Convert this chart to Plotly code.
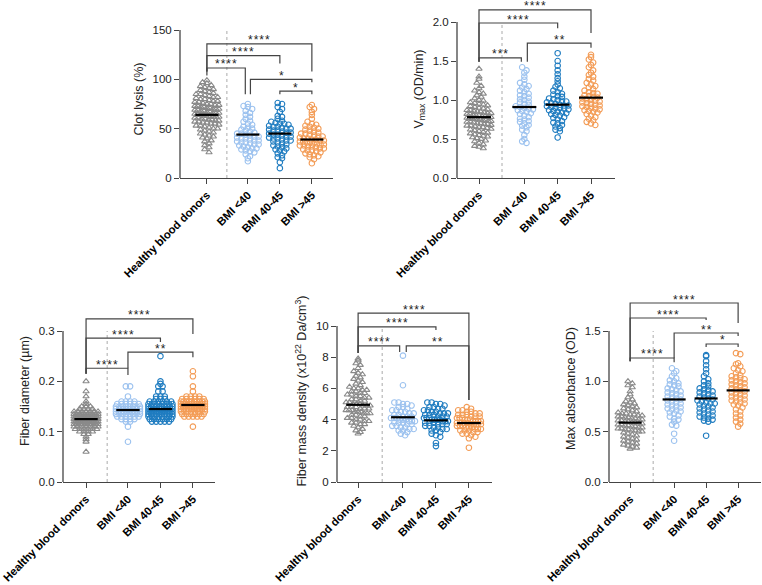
import plotly.graph_objects as go

W, H = 762, 585

groups = ["Healthy blood donors", "BMI <40", "BMI 40-45", "BMI >45"]
colors = ["#8a8a8a", "#9cc2ef", "#1f7cc0", "#f39c56"]
symbols = ["triangle-up-open", "circle-open", "circle-open", "circle-open"]

# ---------------- Clot lysis (%) ----------------
cl_healthy = [99, 97, 96, 94, 93, 92, 91, 90, 89, 88, 87, 86, 85, 85, 84, 83, 82, 82, 81, 80, 80, 79, 78, 78, 77, 77,
              76, 75, 75, 74, 74, 73, 73, 72, 72, 71, 71, 70, 70, 70, 69, 69, 68, 68, 67, 67, 66, 66, 66, 65, 65, 64,
              64, 64, 63, 63, 62, 62, 62, 61, 61, 60, 60, 59, 59, 58, 58, 57, 57, 56, 56, 55, 55, 54, 53, 53, 52, 51,
              50, 50, 49, 48, 47, 46, 45, 44, 43, 42, 41, 40, 38, 37, 35, 33, 31, 29, 26]
cl_bmi_lt40 = [75, 73, 72, 70, 68, 66, 64, 62, 60, 58, 57, 55, 54, 52, 51, 50, 49, 48, 47, 46, 45, 45, 44, 43, 42, 42,
               41, 40, 40, 39, 38, 38, 37, 36, 36, 35, 34, 34, 33, 32, 31, 30, 30, 29, 28, 27, 26, 24, 22, 20, 17]
cl_bmi_40_45 = [76, 75, 72, 70, 67, 63, 62, 60, 58, 57, 56, 55, 55, 54, 53, 52, 52, 51, 50, 50, 49, 48, 48, 47, 46, 46,
                45, 44, 44, 43, 42, 42, 41, 40, 40, 39, 38, 38, 37, 36, 35, 34, 33, 32, 31, 30, 29, 28, 27, 25, 23, 21,
                20, 16, 10]
cl_bmi_gt45 = [74, 72, 70, 67, 64, 60, 57, 55, 54, 53, 52, 51, 50, 49, 48, 47, 46, 45, 45, 44, 43, 42, 42, 41, 40, 40,
               39, 39, 38, 38, 37, 37, 36, 36, 35, 35, 34, 34, 33, 33, 32, 32, 31, 30, 30, 29, 28, 28, 27, 26, 25, 24,
               23, 22, 21, 19, 15]
cl_means = [64, 44, 45, 39]

# ---------------- Vmax (OD/min) ----------------
vm_healthy = [1.40, 1.30, 1.27, 1.22, 1.18, 1.15, 1.12, 1.10, 1.08, 1.06, 1.04, 1.02, 1.00, 0.99, 0.97, 0.96, 0.95,
              0.94, 0.93, 0.92, 0.91, 0.90, 0.89, 0.88, 0.87, 0.87, 0.86, 0.85, 0.85, 0.84, 0.83, 0.83, 0.82, 0.82,
              0.81, 0.80, 0.80, 0.79, 0.79, 0.78, 0.78, 0.77, 0.77, 0.76, 0.76, 0.75, 0.75, 0.74, 0.74, 0.73, 0.73,
              0.72, 0.72, 0.71, 0.70, 0.70, 0.69, 0.69, 0.68, 0.67, 0.67, 0.66, 0.65, 0.65, 0.64, 0.63, 0.62, 0.61,
              0.60, 0.59, 0.58, 0.57, 0.56, 0.55, 0.54, 0.53, 0.52, 0.51, 0.50, 0.48, 0.47, 0.45, 0.43, 0.41, 0.40, 0.38]
vm_bmi_lt40 = [1.42, 1.38, 1.35, 1.30, 1.26, 1.22, 1.20, 1.18, 1.16, 1.14, 1.12, 1.10, 1.08, 1.06, 1.05, 1.03, 1.01,
               1.00, 0.98, 0.97, 0.95, 0.94, 0.92, 0.91, 0.90, 0.89, 0.88, 0.87, 0.86, 0.85, 0.83, 0.82, 0.80, 0.78,
               0.76, 0.75, 0.73, 0.72, 0.70, 0.68, 0.67, 0.65, 0.62, 0.60, 0.55, 0.50, 0.47, 0.45]
vm_bmi_40_45 = [1.60, 1.50, 1.44, 1.38, 1.33, 1.28, 1.24, 1.20, 1.17, 1.15, 1.12, 1.10, 1.08, 1.07, 1.05, 1.04, 1.02,
                1.01, 1.00, 0.99, 0.98, 0.97, 0.96, 0.95, 0.94, 0.93, 0.93, 0.92, 0.91, 0.90, 0.90, 0.89, 0.88, 0.87,
                0.86, 0.85, 0.84, 0.83, 0.82, 0.81, 0.80, 0.78, 0.77, 0.75, 0.73, 0.71, 0.70, 0.68, 0.66, 0.64, 0.62,
                0.60, 0.52]
vm_bmi_gt45 = [1.58, 1.55, 1.52, 1.48, 1.45, 1.42, 1.38, 1.35, 1.32, 1.30, 1.27, 1.25, 1.22, 1.20, 1.18, 1.16, 1.14,
               1.12, 1.10, 1.09, 1.08, 1.06, 1.05, 1.04, 1.03, 1.02, 1.01, 1.00, 0.99, 0.98, 0.97, 0.96, 0.95, 0.94,
               0.93, 0.92, 0.91, 0.90, 0.89, 0.88, 0.87, 0.86, 0.85, 0.84, 0.82, 0.80, 0.78, 0.76, 0.74, 0.72, 0.70, 0.68]
vm_means = [0.78, 0.91, 0.94, 1.03]

# ---------------- Fiber diameter (um) ----------------
fd_healthy = ([0.06, 0.08, 0.085, 0.09] + [0.095] * 2 + [0.10] * 4 + [0.105] * 6 + [0.11] * 9 + [0.115] * 12 +
              [0.12] * 16 + [0.125] * 18 + [0.13] * 14 + [0.135] * 10 + [0.14] * 7 + [0.145] * 4 + [0.15] * 3 +
              [0.155, 0.16, 0.17, 0.18, 0.20])
fd_bmi_lt40 = ([0.19] * 2 + [0.17] + [0.16] * 4 + [0.155] * 6 + [0.15] * 8 + [0.145] * 8 + [0.14] * 10 +
               [0.135] * 8 + [0.13] * 6 + [0.125] * 4 + [0.12] * 2 + [0.11, 0.08])
fd_bmi_40_45 = ([0.25, 0.20, 0.195] + [0.19] * 2 + [0.18] * 2 + [0.17] * 3 + [0.165] * 3 + [0.16] * 6 + [0.155] * 8 +
                [0.15] * 10 + [0.145] * 12 + [0.14] * 14 + [0.135] * 10 + [0.13] * 8 + [0.125] * 6 + [0.12] * 5)
fd_bmi_gt45 = ([0.22, 0.21, 0.19, 0.18] + [0.17] * 4 + [0.165] * 6 + [0.16] * 10 + [0.155] * 12 + [0.15] * 12 +
               [0.145] * 10 + [0.14] * 8 + [0.135] * 6 + [0.13] * 5 + [0.11])
fd_means = [0.125, 0.143, 0.145, 0.153]

# ---------------- Fiber mass density ----------------
md_healthy = [7.9, 7.8, 7.6, 7.5, 7.3, 7.1, 7.0, 6.9, 6.8, 6.7, 6.6, 6.5, 6.4, 6.3, 6.2, 6.1, 6.0, 6.0, 5.9, 5.9, 5.8,
              5.8, 5.7, 5.7, 5.6, 5.6, 5.5, 5.5, 5.4, 5.4, 5.3, 5.3, 5.2, 5.2, 5.1, 5.1, 5.0, 5.0, 5.0, 4.9, 4.9, 4.9,
              4.8, 4.8, 4.8, 4.7, 4.7, 4.7, 4.6, 4.6, 4.6, 4.5, 4.5, 4.5, 4.4, 4.4, 4.4, 4.3, 4.3, 4.2, 4.2, 4.1, 4.1,
              4.0, 4.0, 3.9, 3.9, 3.8, 3.8, 3.7, 3.7, 3.6, 3.5, 3.4, 3.3, 3.2, 3.1]
md_bmi_lt40 = [8.1, 6.2, 5.1, 5.1, 5.0, 5.0, 4.9, 4.8, 4.8, 4.7, 4.6, 4.6, 4.5, 4.5, 4.4, 4.4, 4.3, 4.3, 4.2, 4.2, 4.2,
               4.1, 4.1, 4.1, 4.0, 4.0, 4.0, 3.9, 3.9, 3.9, 3.8, 3.8, 3.8, 3.7, 3.7, 3.6, 3.6, 3.5, 3.5, 3.4, 3.4, 3.3,
               3.3, 3.2, 3.1, 3.0]
md_bmi_40_45 = [5.1, 5.1, 5.0, 5.0, 4.9, 4.8, 4.8, 4.7, 4.7, 4.6, 4.6, 4.5, 4.5, 4.4, 4.4, 4.4, 4.3, 4.3, 4.3, 4.2, 4.2,
                4.2, 4.1, 4.1, 4.1, 4.0, 4.0, 4.0, 4.0, 3.9, 3.9, 3.9, 3.8, 3.8, 3.8, 3.7, 3.7, 3.7, 3.6, 3.6, 3.5, 3.5,
                3.4, 3.4, 3.3, 3.3, 3.2, 3.1, 3.0, 2.9, 2.5, 2.3]
md_bmi_gt45 = [4.8, 4.7, 4.6, 4.6, 4.5, 4.5, 4.4, 4.4, 4.3, 4.3, 4.3, 4.2, 4.2, 4.2, 4.1, 4.1, 4.1, 4.0, 4.0, 4.0, 3.9,
               3.9, 3.9, 3.9, 3.8, 3.8, 3.8, 3.8, 3.7, 3.7, 3.7, 3.7, 3.6, 3.6, 3.6, 3.5, 3.5, 3.5, 3.4, 3.4, 3.4, 3.3,
               3.3, 3.3, 3.2, 3.2, 3.1, 3.1, 3.0, 2.9, 2.8, 2.2]
md_means = [4.95, 4.15, 3.95, 3.78]

# ---------------- Max absorbance (OD) ----------------
ma_healthy = [1.00, 0.98, 0.96, 0.94, 0.90, 0.87, 0.84, 0.82, 0.80, 0.79, 0.78, 0.77, 0.76, 0.75, 0.74, 0.73, 0.72,
              0.71, 0.70, 0.69, 0.68, 0.68, 0.67, 0.67, 0.66, 0.66, 0.65, 0.65, 0.64, 0.64, 0.63, 0.63, 0.62, 0.62,
              0.61, 0.61, 0.60, 0.60, 0.59, 0.59, 0.58, 0.58, 0.57, 0.57, 0.56, 0.56, 0.55, 0.55, 0.54, 0.54, 0.53,
              0.53, 0.52, 0.52, 0.51, 0.51, 0.50, 0.50, 0.49, 0.48, 0.47, 0.46, 0.45, 0.44, 0.43, 0.42, 0.41, 0.40,
              0.39, 0.38, 0.37, 0.36, 0.35, 0.34, 0.33]
ma_bmi_lt40 = [1.13, 1.10, 1.08, 1.05, 1.03, 1.01, 1.00, 0.98, 0.97, 0.96, 0.95, 0.93, 0.92, 0.91, 0.90, 0.89, 0.88,
               0.87, 0.86, 0.85, 0.84, 0.83, 0.82, 0.81, 0.80, 0.79, 0.78, 0.77, 0.76, 0.75, 0.74, 0.73, 0.72, 0.71,
               0.70, 0.69, 0.68, 0.66, 0.65, 0.63, 0.62, 0.60, 0.57, 0.56, 0.48, 0.41]
ma_bmi_40_45 = [1.26, 1.25, 1.20, 1.16, 1.12, 1.08, 1.05, 1.02, 1.00, 0.98, 0.96, 0.95, 0.93, 0.92, 0.91, 0.90, 0.89,
                0.88, 0.87, 0.86, 0.85, 0.84, 0.83, 0.82, 0.81, 0.80, 0.79, 0.78, 0.78, 0.77, 0.76, 0.75, 0.74, 0.73,
                0.72, 0.71, 0.70, 0.69, 0.68, 0.67, 0.66, 0.65, 0.64, 0.63, 0.62, 0.61, 0.60, 0.46]
ma_bmi_gt45 = [1.28, 1.27, 1.18, 1.17, 1.15, 1.13, 1.11, 1.10, 1.08, 1.06, 1.05, 1.04, 1.03, 1.02, 1.01, 1.00, 0.99,
               0.98, 0.97, 0.96, 0.95, 0.94, 0.93, 0.92, 0.91, 0.90, 0.89, 0.88, 0.87, 0.86, 0.85, 0.84, 0.83, 0.82,
               0.81, 0.80, 0.79, 0.78, 0.77, 0.76, 0.74, 0.72, 0.70, 0.68, 0.66, 0.64, 0.62, 0.60, 0.58, 0.55]
ma_means = [0.59, 0.82, 0.83, 0.91]

# significance brackets: (group1, group2, bar level, leg1 end, leg2 end, dx1, dx2, label)
cl_brackets = [(0, 3, 136, 108, 108, 0, 0, "****"), (0, 2, 124, 108, 116, 0, 0, "****"),
               (0, 1, 111.5, 104, 85, 0, -0.08, "****"), (1, 3, 100, 85, 97, 0.08, 0, "*"),
               (2, 3, 88, 85, 85, 0, 0, "*")]
vm_brackets = [(0, 3, 2.155, 1.49, 1.86, 0, 0, "****"), (0, 2, 1.987, 1.49, 1.92, 0, 0, "****"),
               (1, 3, 1.73, 1.49, 1.67, 0.09, 0, "**"), (0, 1, 1.54, 1.49, 1.49, 0, -0.09, "***")]
fd_brackets = [(0, 3, 0.324, 0.215, 0.294, 0, 0, "****"), (0, 2, 0.286, 0.215, 0.278, 0, 0, "****"),
               (1, 3, 0.258, 0.226, 0.248, 0, 0, "**"), (0, 1, 0.226, 0.215, 0.2125, 0, 0, "****")]
md_brackets = [(0, 3, 10.83, 8.27, 5.26, 0, 0, "****"), (0, 2, 9.94, 8.27, 9.74, 0, 0, "****"),
               (0, 1, 8.72, 8.27, 8.33, 0, -0.1, "****"), (1, 3, 8.72, 8.33, 5.26, 0.1, 0, "**")]
ma_brackets = [(0, 3, 1.778, 1.2, 1.58, 0, 0, "****"), (0, 2, 1.629, 1.2, 1.61, 0, 0, "****"),
               (1, 3, 1.48, 1.23, 1.45, 0, 0, "**"), (2, 3, 1.371, 1.34, 1.34, 0, 0, "*"),
               (0, 1, 1.232, 1.2, 1.19, 0, 0, "****")]

# panel layout (pixel boxes: left, right, top-of-domain, y of zero, y of top tick)
panels = [
    dict(data=[cl_healthy, cl_bmi_lt40, cl_bmi_40_45, cl_bmi_gt45], means=cl_means, br=cl_brackets,
         title="Clot lysis (%)", ticks=[0, 50, 100, 150], ticktext=["0", "50", "100", "150"],
         box=(180, 333, 20, 178, 30), pos=[0, 1.28, 2.28, 3.28], xr=(-0.84, 3.94), dot=0.625, binv=4.0),
    dict(data=[vm_healthy, vm_bmi_lt40, vm_bmi_40_45, vm_bmi_gt45], means=vm_means, br=vm_brackets,
         title="V<sub>max</sub> (OD/min)", ticks=[0, 0.5, 1.0, 1.5, 2.0], ticktext=["0.0", "0.5", "1.0", "1.5", "2.0"],
         box=(457, 615, 0, 178, 22), pos=[0, 1.36, 2.36, 3.36], xr=(-0.66, 4.08), dot=0.69, binv=0.05),
    dict(data=[fd_healthy, fd_bmi_lt40, fd_bmi_40_45, fd_bmi_gt45], means=fd_means, br=fd_brackets,
         title="Fiber diameter (µm)", ticks=[0, 0.1, 0.2, 0.3], ticktext=["0.0", "0.1", "0.2", "0.3"],
         box=(63, 215, 300, 482, 331), pos=[0, 1.29, 2.29, 3.29], xr=(-0.71, 3.97), dot=0.65, binv=0.005),
    dict(data=[md_healthy, md_bmi_lt40, md_bmi_40_45, md_bmi_gt45], means=md_means, br=md_brackets,
         title="Fiber mass density (x10<sup>22</sup> Da/cm<sup>3</sup>)", ticks=[0, 2, 4, 6, 8, 10],
         ticktext=["0", "2", "4", "6", "8", "10"],
         box=(337, 492, 300, 482, 326), pos=[0, 1.36, 2.36, 3.36], xr=(-0.64, 4.06), dot=0.73, binv=0.25),
    dict(data=[ma_healthy, ma_bmi_lt40, ma_bmi_40_45, ma_bmi_gt45], means=ma_means, br=ma_brackets,
         title="Max absorbance (OD)", ticks=[0, 0.5, 1.0, 1.5], ticktext=["0.0", "0.5", "1.0", "1.5"],
         box=(609, 761, 295, 482, 331), pos=[0, 1.375, 2.375, 3.375], xr=(-0.66, 4.09), dot=0.72, binv=0.04),
]


def swarm(vals, binv, u_px, d=4.3, maxw=24.0):
    rows = {}
    for i, v in enumerate(vals):
        rows.setdefault(round(v / binv + 1e-9), []).append(i)
    off = [0.0] * len(vals)
    for idx in rows.values():
        n = len(idx)
        if n < 2:
            continue
        s = min(d, maxw / (n - 1))
        for j, i in enumerate(idx):
            off[i] = (j - (n - 1) / 2) * s / u_px
    return off


fig = go.Figure()
shapes = []
annotations = []
AX = "#444444"
FONT = "Arial, Liberation Sans, sans-serif"
HAIR = "\u200a"

for pi, p in enumerate(panels):
    n = "" if pi == 0 else str(pi + 1)
    xa, ya = "x" + n, "y" + n
    left, right, top, zero_px, toptick_px = p["box"]
    toptick = p["ticks"][-1]
    yr_top = toptick * (zero_px - top) / (zero_px - toptick_px)
    u_px = (right - left) / (p["xr"][1] - p["xr"][0])
    for gi, vals in enumerate(p["data"]):
        off = swarm(vals, p["binv"], u_px)
        xs = [p["pos"][gi] + o for o in off]
        fig.add_trace(go.Scatter(
            x=xs, y=vals, mode="markers", xaxis=xa, yaxis=ya, showlegend=False,
            marker=dict(symbol=symbols[gi], size=5.5, color=colors[gi],
                        line=dict(width=1.1, color=colors[gi]))))
    for gi, m in enumerate(p["means"]):
        c = p["pos"][gi]
        fig.add_trace(go.Scatter(x=[c - 0.36, c + 0.36], y=[m, m], mode="lines", xaxis=xa, yaxis=ya,
                                 showlegend=False, line=dict(color="black", width=2.2)))
    # y-axis line only up to the top tick
    shapes.append(dict(type="line", xref=xa + " domain", yref=ya, x0=0, x1=0, y0=0, y1=toptick,
                       line=dict(color=AX, width=1.3)))
    # dotted separator
    shapes.append(dict(type="line", xref=xa, yref=ya, x0=p["dot"], x1=p["dot"], y0=0, y1=toptick,
                       line=dict(color="#aaaaaa", width=1, dash="dot")))
    for g1, g2, yb, l1, l2, dx1, dx2, lab in p["br"]:
        x1 = p["pos"][g1] + dx1
        x2 = p["pos"][g2] + dx2
        shapes.append(dict(type="path", xref=xa, yref=ya,
                           path=f"M {x1},{l1} L {x1},{yb} L {x2},{yb} L {x2},{l2}",
                           line=dict(color=AX, width=1.2)))
        annotations.append(dict(x=(x1 + x2) / 2, y=yb, xref=xa, yref=ya, text=HAIR.join(lab), showarrow=False,
                                yanchor="bottom", yshift=-5.5, font=dict(size=12, color="#222", family=FONT)))
    fig.layout["xaxis" + n] = dict(
        domain=[left / W, right / W], range=list(p["xr"]), anchor=ya, automargin=False,
        tickvals=p["pos"], ticktext=["<b>" + g + "</b>" for g in groups], tickangle=-45,
        tickfont=dict(size=11.3, color="black", family=FONT),
        ticks="outside", ticklen=5, tickwidth=1.3, tickcolor=AX,
        showline=True, linecolor=AX, linewidth=1.3, showgrid=False, zeroline=False, fixedrange=True)
    fig.layout["yaxis" + n] = dict(
        domain=[1 - zero_px / H, 1 - top / H], range=[0, yr_top], anchor=xa, automargin=False,
        tickvals=p["ticks"], ticktext=p["ticktext"], tickfont=dict(size=11.5, color="#222", family=FONT),
        ticks="outside", ticklen=5, tickwidth=1.3, tickcolor=AX,
        showline=False, showgrid=False, zeroline=False, fixedrange=True,
        title=dict(text=p["title"], font=dict(size=12.5, color="#222", family=FONT), standoff=6))

fig.update_layout(width=W, height=H, margin=dict(l=0, r=0, t=0, b=0, autoexpand=False), plot_bgcolor="white",
                  paper_bgcolor="white", shapes=shapes, annotations=annotations, font=dict(family=FONT))
fig.write_html("out.html")
